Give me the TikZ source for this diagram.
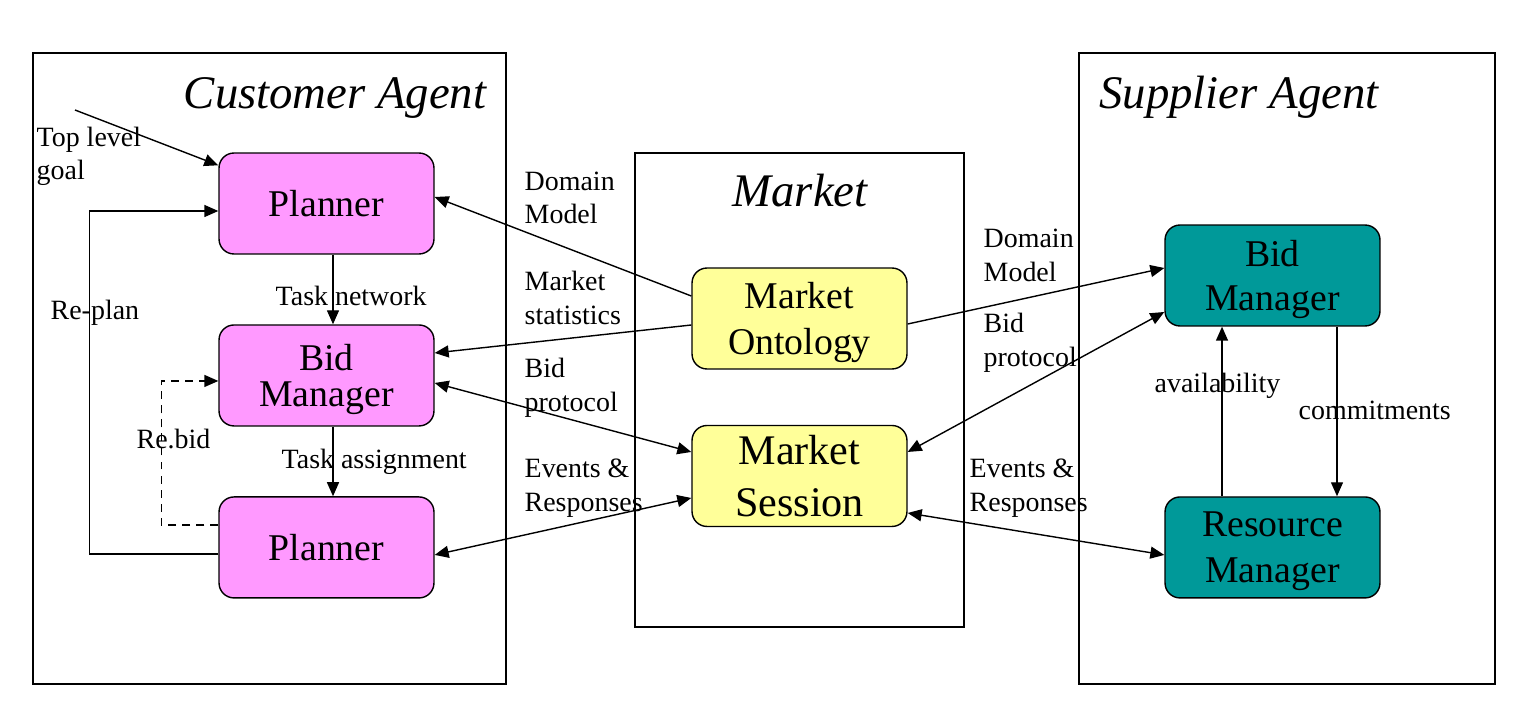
\documentclass[tikz,border=0pt]{standalone}
\usepackage{fontspec}
\setmainfont{Liberation Serif}
\usetikzlibrary{positioning,arrows.meta}
\definecolor{custpink}{HTML}{FF99FF}
\definecolor{mktyellow}{HTML}{FFFF99}
\definecolor{supteal}{HTML}{009999}
\tikzset{compnode/.style={rectangle, rounded corners=0.3cm, draw=black, line width=0.8pt, minimum width=4.3cm, minimum height=2.02cm, align=center, inner sep=0pt, text depth=0pt, font=\fontsize{21.5}{26}\selectfont},
custnode/.style={compnode, fill=custpink},
mktnode/.style={compnode, fill=mktyellow},
supnode/.style={compnode, fill=supteal},
lbl/.style={anchor=base west, align=left, inner sep=0pt, font=\fontsize{15.9}{19.3}\selectfont},
agenttitle/.style={inner sep=0pt, font=\fontsize{26.6}{30}\selectfont\itshape},}

\begin{document}
\begin{tikzpicture}[x=0.02cm, y=-0.02cm, line width=0.8pt, >={Triangle[length=0.28cm, width=0.24cm]}]
\useasboundingbox (0,0) rectangle (1534,716);
% agent frames
\draw (33,53) rectangle (506,684);
\draw (635,153) rectangle (964,627);
\draw (1079,53) rectangle (1495,684);
\node [agenttitle, anchor=base east] (custtitle) at (487,109) {Customer Agent};
\node [agenttitle, anchor=base] (mkttitle) at (800,207) {Market};
\node [agenttitle, anchor=base] (suptitle) at (1239,109) {Supplier Agent};
% customer agent
\node [custnode] (plan1) at (326.5,203.5) {Planner};
\node [custnode, font=\fontsize{21.5}{20.5}\selectfont, below of=plan1, node distance=3.44cm] (bidc) {Bid\\Manager};
\node [custnode, below of=bidc, node distance=3.44cm] (plan2) {Planner};
% market
\node [mktnode] (onto) at (799.5,318.5) {Market\\Ontology};
\node [mktnode, font=\fontsize{24}{29.5}\selectfont, below of=onto, node distance=3.15cm] (sess) {Market\\Session};
% supplier agent
\node [supnode, font=\fontsize{21.5}{25}\selectfont] (bids) at (1272.5,275.5) {Bid\\Manager};
\node [supnode, below of=bids, node distance=5.44cm] (res) {Resource\\Manager};
\coordinate (goal) at (75,110);
% labels (base = last line)
\node [lbl] (goallbl) at (36,180) {Top level\\goal};
\node [lbl] (replbl) at (50,319) {Re-plan};
\node [lbl] (rebidlbl) at (136,448) {Re.bid};
\node [lbl] (tnlbl) at (275,305) {Task network};
\node [lbl] (talbl) at (281,468) {Task assignment};
\node [lbl] (dm1lbl) at (524,224) {Domain\\Model};
\node [lbl] (mslbl) at (524,324) {Market\\statistics};
\node [lbl] (bp1lbl) at (524,411) {Bid\\protocol};
\node [lbl] (er1lbl) at (524,511) {Events \&\\Responses};
\node [lbl] (dm2lbl) at (983,281) {Domain\\Model};
\node [lbl] (bp2lbl) at (983,366) {Bid\\protocol};
\node [lbl] (er2lbl) at (969,511) {Events \&\\Responses};
\node [lbl] (avlbl) at (1154,392) {availability};
\node [lbl] (cmlbl) at (1298,419) {commitments};
% connectors
\draw[->] (goal) -- ([yshift=-0.26cm]plan1.north west);
\draw[->] ([xshift=0.13cm]plan1.south) -- ([xshift=0.13cm]bidc.north);
\draw[->] ([xshift=0.13cm]bidc.south) -- ([xshift=0.13cm]plan2.north);
\draw[->] ([yshift=-0.13cm]plan2.west) -- ++(-2.58cm,0) |- ([yshift=-0.15cm]plan1.west);
\draw[->, dashed, dash pattern=on 4.5pt off 3.5pt] ([yshift=0.45cm]plan2.west) -- ++(-1.14cm,0) |- ([yshift=-0.11cm]bidc.west);
\draw[->] ([yshift=0.45cm]onto.west) -- ([yshift=0.13cm]plan1.east);
\draw[->] ([yshift=-0.13cm]onto.west) -- ([yshift=0.45cm]bidc.east);
\draw[<->] ([yshift=-0.15cm]bidc.east) -- ([yshift=0.48cm]sess.west);
\draw[<->] ([yshift=-0.15cm]plan2.east) -- ([yshift=-0.44cm]sess.west);
\draw[->] ([yshift=-0.11cm]onto.east) -- ([yshift=0.15cm]bids.west);
\draw[<->] ([yshift=-0.73cm]bids.west) -- ([yshift=0.48cm]sess.east);
\draw[<->] ([yshift=-0.74cm]sess.east) -- ([yshift=-0.15cm]res.west);
\draw[->] ([xshift=-1.01cm]res.north) -- ([xshift=-1.01cm]bids.south);
\draw[->] ([xshift=1.29cm]bids.south) -- ([xshift=1.29cm]res.north);
\end{tikzpicture}
\end{document}
